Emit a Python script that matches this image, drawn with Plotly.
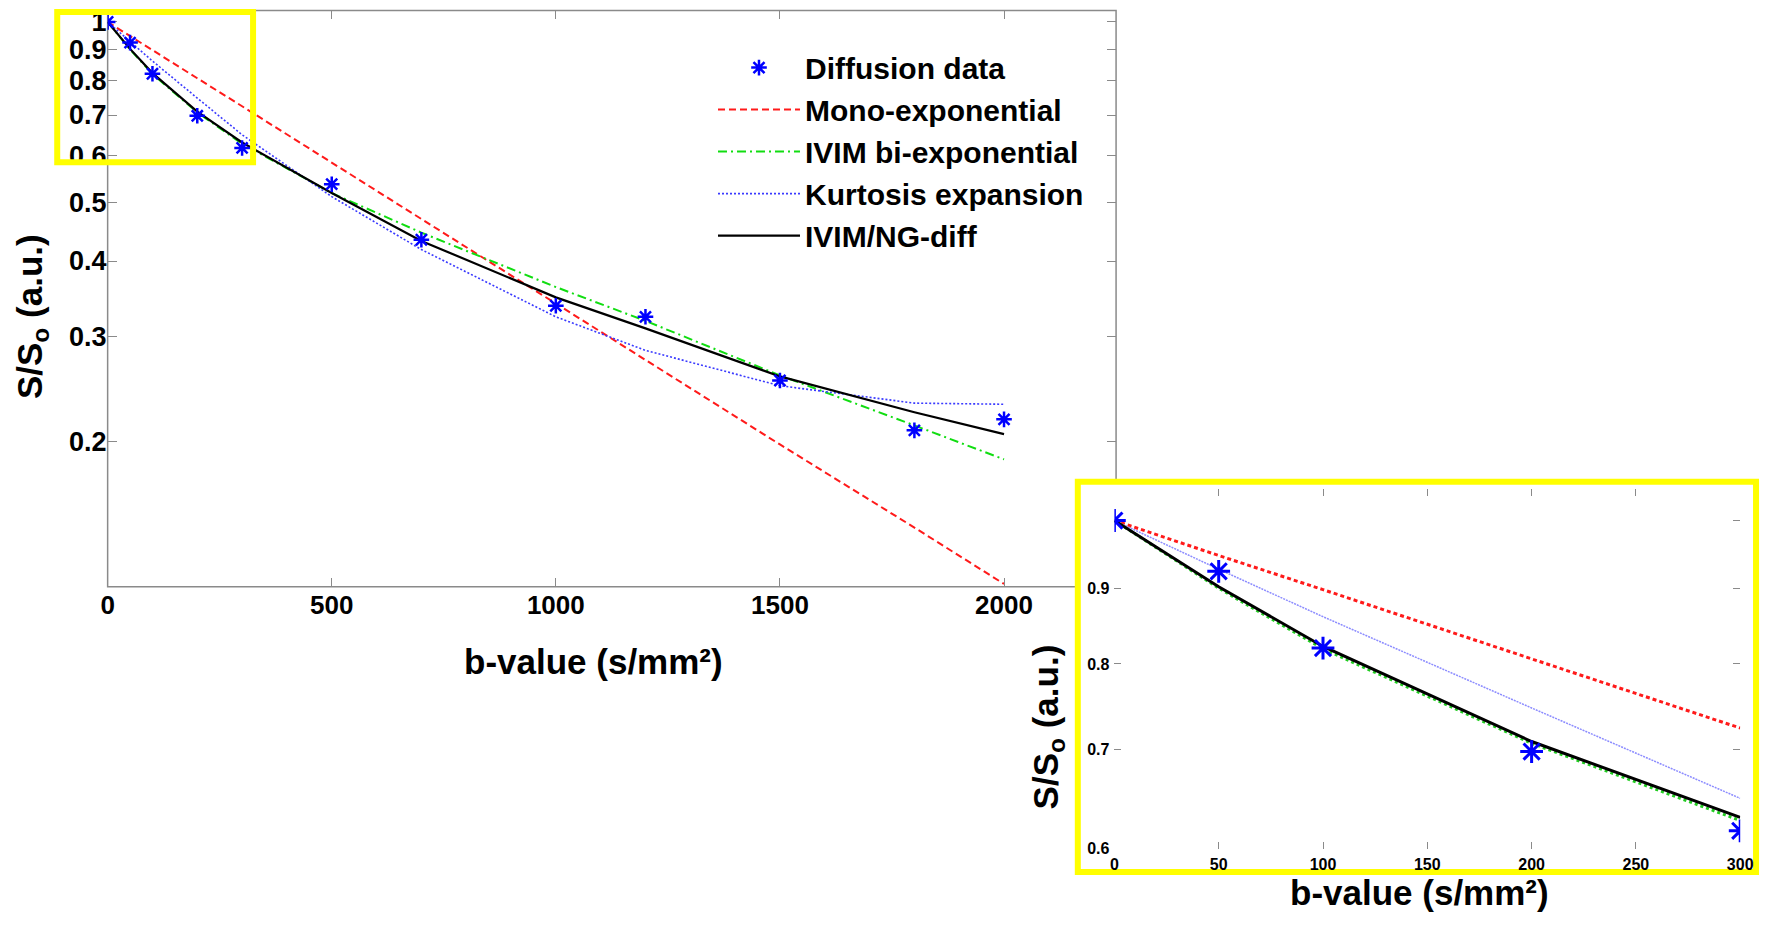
import math
import plotly.graph_objects as go

# b-values (s/mm^2) and signal readings S/S0
b_values = [0, 50, 100, 200, 300, 500, 700, 1000, 1200, 1500, 1800, 2000]
diffusion_data = [1.0, 0.924, 0.820, 0.698, 0.617, 0.537, 0.434, 0.337, 0.323, 0.253, 0.209, 0.218]
mono_exp = [1.0, 0.947, 0.898, 0.806, 0.724, 0.583, 0.470, 0.340, 0.274, 0.198, 0.144, 0.116]
ivim_biexp = [1.0, 0.900, 0.819, 0.707, 0.627, 0.519, 0.446, 0.362, 0.318, 0.258, 0.213, 0.187]
kurtosis = [1.0, 0.927, 0.861, 0.747, 0.649, 0.512, 0.418, 0.323, 0.284, 0.248, 0.232, 0.231]
ivim_ngdiff = [1.0, 0.902, 0.822, 0.709, 0.630, 0.519, 0.432, 0.348, 0.309, 0.257, 0.224, 0.206]

main_xticks = [0, 500, 1000, 1500, 2000]
main_yticks = [0.2, 0.3, 0.4, 0.5, 0.6, 0.7, 0.8, 0.9, 1.0]
main_ytext = ["0.2", "0.3", "0.4", "0.5", "0.6", "0.7", "0.8", "0.9", "1"]
inset_xticks = [0, 50, 100, 150, 200, 250, 300]
inset_yticks = [0.6, 0.7, 0.8, 0.9]
n_inset = 5  # points with b <= 300

# page is 1772x929, the html body keeps an 8px margin
OFF = 8
FW, FH = 1764, 913
FONT = "Liberation Sans, Arial, sans-serif"
GRAY = "#8a8a8a"
BLUE = "#0000ff"
YELLOW = "#ffff00"


def px(x):
    return (x - OFF) / FW


def py(y):
    return 1 - (y - OFF) / FH


series = [
    ("Mono-exponential", mono_exp, dict(color="#ff1a1a", width=2, dash="7px,4px"), dict(color="#ff1a1a", width=3, dash="4px,3px")),
    ("IVIM bi-exponential", ivim_biexp, dict(color="#11dd11", width=2, dash="9px,4px,2px,4px"), dict(color="#22cc22", width=3, dash="3px,3px")),
    ("Kurtosis expansion", kurtosis, dict(color="#3a3aff", width=1.6, dash="2px,2px"), dict(color="#8c8cff", width=1.5, dash="2px,1px")),
    ("IVIM/NG-diff", ivim_ngdiff, dict(color="black", width=2.2), dict(color="black", width=3)),
]

fig = go.Figure()

fig.add_trace(go.Scatter(
    x=b_values, y=diffusion_data, mode="markers", name="Diffusion data",
    marker=dict(symbol="asterisk-open", size=13, color=BLUE, line=dict(color=BLUE, width=2.5)),
    zorder=10,
))
for name, vals, line, _ in series:
    fig.add_trace(go.Scatter(x=b_values, y=vals, mode="lines", name=name, line=line))

# inset: zoom on the first 300 s/mm^2
for name, vals, _, line in series:
    fig.add_trace(go.Scatter(x=b_values[:n_inset], y=vals[:n_inset], mode="lines", line=line,
                             showlegend=False, xaxis="x2", yaxis="y2"))
fig.add_trace(go.Scatter(
    x=b_values[:n_inset], y=diffusion_data[:n_inset], mode="markers", showlegend=False,
    marker=dict(symbol="asterisk-open", size=19, color=BLUE, line=dict(color=BLUE, width=3)),
    xaxis="x2", yaxis="y2", cliponaxis=False, zorder=10,
))

xtick_font = dict(family=FONT, size=26, color="black", weight="bold")
ytick_font = dict(family=FONT, size=27, color="black", weight="bold")
small_font = dict(family=FONT, size=16, color="black", weight="bold")
title_font = dict(family=FONT, size=35, color="black", weight="bold")

fig.update_layout(
    width=FW, height=FH, autosize=False,
    margin=dict(l=0, r=0, t=0, b=0),
    paper_bgcolor="white", plot_bgcolor="white",
    font=dict(family=FONT, color="black"),
    xaxis=dict(
        domain=[px(101.7), px(1121.7)], range=[0, 2250], anchor="y",
        tickvals=main_xticks, ticks="inside", ticklen=9, tickcolor=GRAY, tickwidth=1.2,
        mirror="ticks", showline=False, showgrid=False, zeroline=False, tickfont=xtick_font,
    ),
    yaxis=dict(
        domain=[py(591.7), py(8)], type="log", anchor="x",
        range=[math.log10(0.1148), math.log10(1.047)],
        tickvals=main_yticks, ticktext=main_ytext, ticks="inside", ticklen=9, tickcolor=GRAY,
        tickwidth=1.2, mirror="ticks", showline=False, showgrid=False, zeroline=False,
        tickfont=ytick_font, ticklabeloverflow="allow",
    ),
    xaxis2=dict(
        domain=[px(1120), px(1753)], range=[0, 300], anchor="y2",
        tickvals=inset_xticks, ticks="inside", ticklen=7, tickcolor=GRAY,
        showline=True, linecolor="#b0b0b0", linewidth=1.5, mirror="ticks",
        showgrid=False, zeroline=False, tickfont=small_font, ticklabeloverflow="allow",
    ),
    yaxis2=dict(
        domain=[py(857), py(493)], type="log", anchor="x2",
        range=[math.log10(0.6), math.log10(1.05)],
        tickvals=inset_yticks, ticks="inside", ticklen=7, tickcolor=GRAY,
        minor=dict(tickmode="array", tickvals=[1.0], ticks="inside", ticklen=7, tickcolor=GRAY),
        showline=True, linecolor="#b0b0b0", linewidth=1.5, mirror="ticks",
        showgrid=False, zeroline=False, tickfont=small_font,
    ),
    legend=dict(
        x=px(714), y=py(40), xanchor="left", yanchor="top",
        font=dict(family=FONT, size=30, color="black", weight="bold"),
        bgcolor="rgba(0,0,0,0)", itemwidth=82,
    ),
    shapes=[
        # main axes frame
        dict(type="rect", xref="paper", yref="paper", x0=px(101.7), x1=px(1121.7),
             y0=py(591.7), y1=py(8.5), line=dict(color=GRAY, width=1.5), layer="below"),
        # inset box, covers the main frame
        dict(type="rect", xref="paper", yref="paper", x0=px(1083), x1=px(1769),
             y0=py(880.5), y1=py(485.5), fillcolor="white", line=dict(color=YELLOW, width=6),
             layer="below"),
        # zoomed region marker
        dict(type="rect", xref="paper", yref="paper", x0=px(50.7), x1=px(248.8),
             y0=py(162), y1=py(10), line=dict(color=YELLOW, width=6), layer="above"),
    ],
    annotations=[
        dict(text="b-value (s/mm²)", x=px(593), y=py(667), xref="paper", yref="paper",
             showarrow=False, xanchor="center", yanchor="middle", font=title_font),
        dict(text="S/S<sub>o</sub> (a.u.)", x=px(25), y=py(318), xref="paper", yref="paper",
             showarrow=False, textangle=-90, xanchor="center", yanchor="middle", font=title_font),
        dict(text="b-value (s/mm²)", x=px(1429), y=py(901), xref="paper", yref="paper",
             showarrow=False, xanchor="center", yanchor="middle", font=title_font),
        dict(text="S/S<sub>o</sub> (a.u.)", x=px(1053), y=py(734), xref="paper", yref="paper",
             showarrow=False, textangle=-90, xanchor="center", yanchor="middle", font=title_font),
    ],
)

fig.write_html("out.html")
